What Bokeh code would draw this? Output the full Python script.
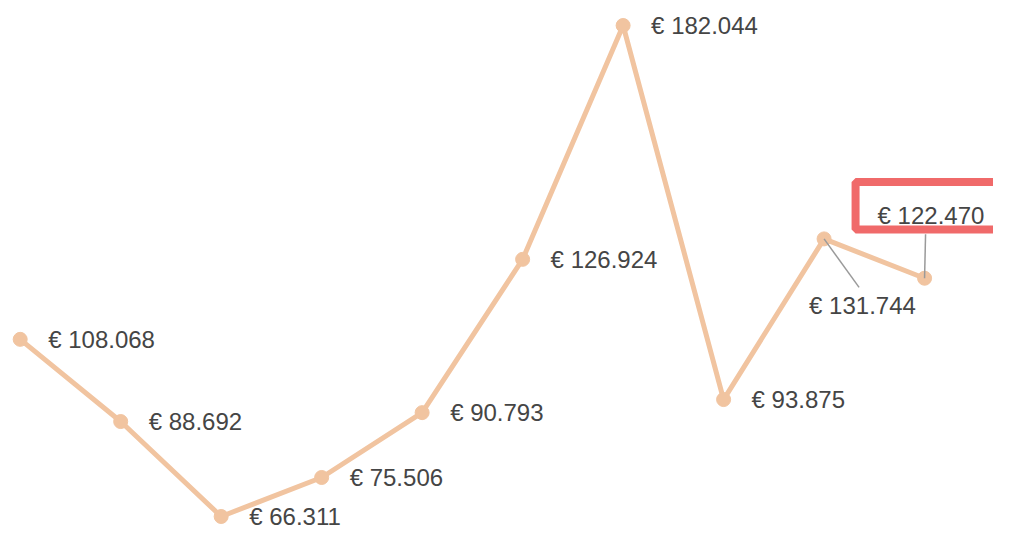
from bokeh.plotting import figure
from bokeh.models import Range1d, ColumnDataSource
from bokeh.core.properties import value
from bokeh.embed import file_html
from bokeh.resources import INLINE

# ---- data ----
index = [0, 1, 2, 3, 4, 5, 6, 7, 8, 9]
amounts = [108068, 88692, 66311, 75506, 90793, 126924, 182044, 93875, 131744, 122470]
labels = ["€ " + f"{v:,}".replace(",", ".") for v in amounts]

# ---- layout ----
W, H = 993, 535
x0, x1 = -0.196, 9.686
y0, y1 = 61832, 187937
kx = W / (x1 - x0)
ky = H / (y1 - y0)

LINE = "#f1c4a0"
TEXT = "#454545"
RED = "#f06a6a"
GREY = "#9a9a9a"
FONT = value("Liberation Sans")

p = figure(width=W, height=H, output_backend="svg", toolbar_location=None,
           x_range=Range1d(x0, x1), y_range=Range1d(y0, y1), min_border=0)
p.xaxis.visible = False
p.yaxis.visible = False
p.grid.visible = False
p.outline_line_color = None
p.background_fill_color = "white"
p.border_fill_color = "white"

p.line(index, amounts, line_color=LINE, line_width=5)
p.scatter(index, amounts, size=14, fill_color=LINE, line_color=LINE)

# regular labels (to the right of the point)
reg = [i for i in index if i < 8]
src = ColumnDataSource(dict(x=[index[i] for i in reg], y=[amounts[i] for i in reg],
                            t=[labels[i] for i in reg]))
p.text(x="x", y="y", text="t", source=src, x_offset=28, y_offset=0,
       text_baseline="middle", text_align="left", text_font=FONT,
       text_font_size="24px", text_color=TEXT)

# label for index 8: below right with leader
i8, i9 = 8, 9
p.segment(x0=[index[i8]], y0=[amounts[i8]],
          x1=[index[i8] + 35 / kx], y1=[amounts[i8] - 48.5 / ky],
          line_color=GREY, line_width=1.5)
p.text(x=[index[i8]], y=[amounts[i8]], text=[labels[i8]], x_offset=-15, y_offset=67,
       text_baseline="middle", text_align="left", text_font=FONT,
       text_font_size="24px", text_color=TEXT)

# highlighted label for index 9: boxed, above with leader
p.segment(x0=[index[i9]], y0=[amounts[i9]],
          x1=[index[i9] + 1 / kx], y1=[amounts[i9] + 44 / ky],
          line_color=GREY, line_width=1.5)
p.rect(x=[index[i9] + 71 / kx], y=[amounts[i9] + 72.4 / ky], width=280, height=47.5,
       width_units="screen", height_units="screen",
       fill_color="white", line_color=RED, line_width=8)
p.text(x=[index[i9]], y=[amounts[i9]], text=[labels[i9]], x_offset=-47, y_offset=-63,
       text_baseline="middle", text_align="left", text_font=FONT,
       text_font_size="24px", text_color=TEXT)

open("out.html", "w").write(file_html(p, INLINE))
